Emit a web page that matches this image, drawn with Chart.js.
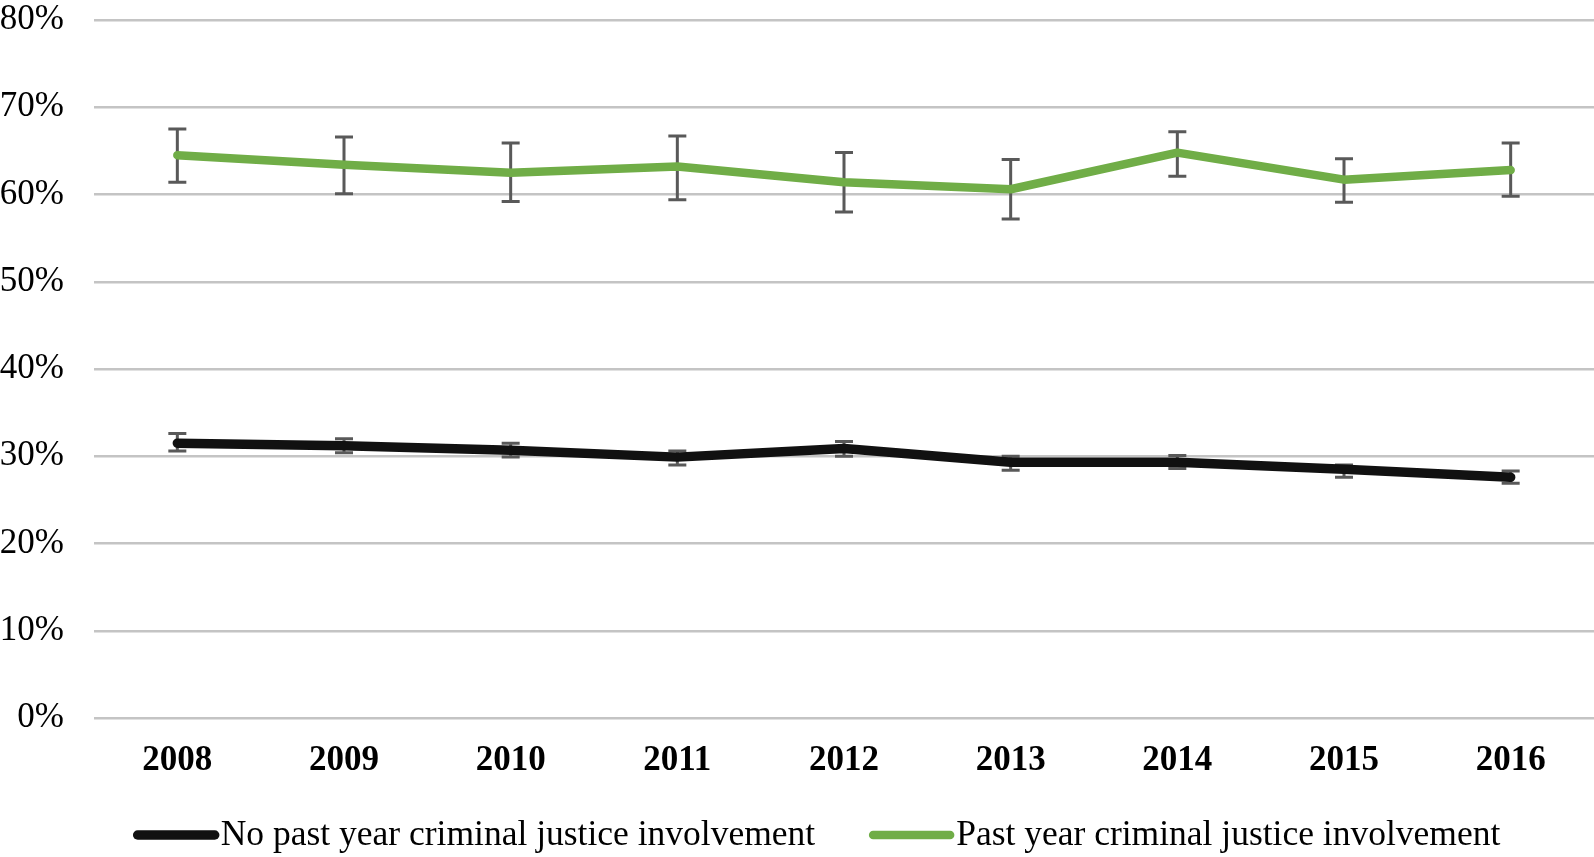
<!DOCTYPE html>
<html>
<head>
<meta charset="utf-8">
<script src="https://cdn.jsdelivr.net/npm/chart.js@4"></script>
<style>
  html, body { margin: 0; padding: 0; background: #fff; }
  canvas { display: block; }
</style>
</head>
<body>
<canvas id="chart" width="1594" height="857"></canvas>
<script>
const years = ["2008", "2009", "2010", "2011", "2012", "2013", "2014", "2015", "2016"];
const yTicks = [0, 10, 20, 30, 40, 50, 60, 70, 80];

// No past year criminal justice involvement
const noCJ     = [31.5, 31.2, 30.7, 29.9, 30.9, 29.3, 29.3, 28.5, 27.6];
const noCJLow  = [30.6, 30.4, 29.9, 29.0, 30.0, 28.4, 28.6, 27.6, 26.9];
const noCJHigh = [32.6, 32.0, 31.5, 30.6, 31.7, 30.0, 30.1, 29.0, 28.3];

// Past year criminal justice involvement
const cj     = [64.5, 63.4, 62.5, 63.2, 61.4, 60.6, 64.8, 61.7, 62.8];
const cjLow  = [61.4, 60.1, 59.2, 59.4, 58.0, 57.2, 62.1, 59.1, 59.8];
const cjHigh = [67.5, 66.6, 65.9, 66.7, 64.8, 64.0, 67.2, 64.1, 65.9];

const serif = "'Liberation Serif', 'Times New Roman', serif";

// whiskers drawn through the scales
const errorBars = {
  id: "errorBars",
  beforeDatasetsDraw(chart) {
    const ctx = chart.ctx;
    const y = chart.scales.y;
    ctx.save();
    ctx.strokeStyle = "#595959";
    ctx.lineWidth = 3;
    chart.data.datasets.forEach((ds, i) => {
      const meta = chart.getDatasetMeta(i);
      meta.data.forEach((pt, j) => {
        const top = y.getPixelForValue(ds.high[j]);
        const bot = y.getPixelForValue(ds.low[j]);
        ctx.beginPath();
        ctx.moveTo(pt.x, top); ctx.lineTo(pt.x, bot);
        ctx.moveTo(pt.x - 9, top); ctx.lineTo(pt.x + 9, top);
        ctx.moveTo(pt.x - 9, bot); ctx.lineTo(pt.x + 9, bot);
        ctx.stroke();
      });
    });
    ctx.restore();
  }
};

// legend like the Excel one: long line sample right before the text
const lineLegend = {
  id: "lineLegend",
  afterDraw(chart) {
    const ctx = chart.ctx;
    const sample = 85, gap = 2, itemGap = 54;
    ctx.save();
    ctx.font = "35.5px " + serif;
    ctx.textBaseline = "middle";
    const items = chart.data.datasets.map(ds => ({ ds, w: ctx.measureText(ds.label).width }));
    let total = items.reduce((s, it) => s + sample + gap + it.w, 0) + itemGap * (items.length - 1);
    let x = 817 - total / 2;
    const yMid = chart.height - 22;
    items.forEach(it => {
      ctx.strokeStyle = it.ds.borderColor;
      ctx.lineWidth = it.ds.borderWidth;
      ctx.lineCap = "round";
      ctx.beginPath();
      ctx.moveTo(x + 4, yMid); ctx.lineTo(x + sample - 4, yMid);
      ctx.stroke();
      ctx.fillStyle = "#000";
      ctx.fillText(it.ds.label, x + sample + gap, yMid + 1);
      x += sample + gap + it.w + itemGap;
    });
    ctx.restore();
  }
};

new Chart(document.getElementById("chart"), {
  type: "line",
  data: {
    labels: years,
    datasets: [
      {
        label: "No past year criminal justice involvement",
        data: noCJ, low: noCJLow, high: noCJHigh,
        borderColor: "#111111",
        borderWidth: 9.5,
        borderCapStyle: "round",
        borderJoinStyle: "round",
        pointRadius: 0,
        tension: 0
      },
      {
        label: "Past year criminal justice involvement",
        data: cj, low: cjLow, high: cjHigh,
        borderColor: "#70AD47",
        borderWidth: 8.5,
        borderCapStyle: "round",
        borderJoinStyle: "round",
        pointRadius: 0,
        tension: 0
      }
    ]
  },
  options: {
    responsive: false,
    animation: false,
    layout: { padding: { top: 0, right: 0, bottom: 78, left: 0 } },
    plugins: {
      legend: { display: false },
      tooltip: { enabled: false }
    },
    scales: {
      x: {
        offset: true,
        grid: { display: false, drawTicks: false },
        border: { display: false },
        afterFit: s => {
          s.height = 61;
          s.paddingLeft = 0; s.paddingRight = 0;
        },
        ticks: {
          padding: 22,
          maxRotation: 0,
          color: "#000",
          font: { family: serif, size: 35, weight: "bold", lineHeight: 1.2 }
        }
      },
      y: {
        min: 0,
        max: 80,
        afterBuildTicks: s => { s.ticks = yTicks.map(v => ({ value: v })); },
        afterFit: s => {
          s.width = 94;
          s.paddingTop = 20; s.paddingBottom = 0;
        },
        grid: { color: "#c4c4c4", lineWidth: 2.5, drawTicks: false },
        border: { display: false },
        ticks: {
          padding: 30,
          color: "#000",
          font: { family: serif, size: 35, lineHeight: 1.1 },
          callback: v => v + "%"
        }
      }
    }
  },
  plugins: [errorBars, lineLegend]
});
</script>
</body>
</html>
